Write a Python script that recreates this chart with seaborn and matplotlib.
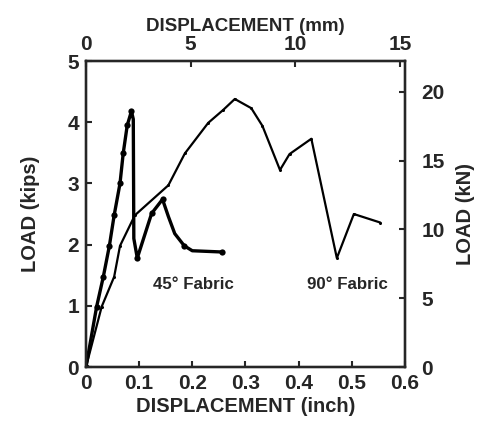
import matplotlib
matplotlib.use("Agg")
import matplotlib.pyplot as plt
import seaborn as sns
import pandas as pd

# 45 degree fabric (inch, kips)
disp45 = [0.0, 0.020, 0.0326, 0.044, 0.053, 0.064, 0.070, 0.0776, 0.0855,
          0.089, 0.090, 0.0965, 0.1235, 0.144, 0.155, 0.167, 0.185, 0.200, 0.255]
load45 = [0.0, 0.985, 1.475, 1.98, 2.48, 3.00, 3.49, 3.95, 4.18,
          4.05, 2.10, 1.78, 2.51, 2.74, 2.46, 2.18, 1.98, 1.90, 1.88]
mark45 = [0, 1, 2, 3, 4, 5, 6, 7, 8, 11, 12, 13, 16, 18]

# 90 degree fabric (inch, kips)
disp90 = [0.0, 0.0295, 0.053, 0.064, 0.092, 0.155, 0.186, 0.230, 0.258,
          0.280, 0.311, 0.332, 0.365, 0.383, 0.424, 0.472, 0.504, 0.554]
load90 = [0.0, 0.985, 1.475, 1.98, 2.48, 2.97, 3.49, 3.99, 4.20,
          4.38, 4.23, 3.94, 3.22, 3.48, 3.73, 1.78, 2.50, 2.36]

x_ticks_in = [0, 0.1, 0.2, 0.3, 0.4, 0.5, 0.6]
y_ticks_kips = [0, 1, 2, 3, 4, 5]
x_ticks_mm = [0, 5, 10, 15]
y_ticks_kn = [0, 5, 10, 15, 20]

sns.set_style("ticks")
plt.rcParams['font.family'] = ['Liberation Sans', 'DejaVu Sans']
plt.rcParams['font.weight'] = 'bold'

fig = plt.figure(figsize=(4.82, 4.30), dpi=100)
ax = fig.add_axes([0.1784, 0.1465, 0.840 - 0.1784, 0.858 - 0.1465])

df45 = pd.DataFrame({"disp": disp45, "load": load45})
df90 = pd.DataFrame({"disp": disp90, "load": load90})

sns.lineplot(data=df90, x="disp", y="load", ax=ax, sort=False, estimator=None,
             color="black", lw=1.6, marker="o", markersize=2.2, markeredgewidth=0)
sns.lineplot(data=df45, x="disp", y="load", ax=ax, sort=False, estimator=None,
             color="black", lw=2.4, marker="o", markersize=4.5, markeredgewidth=0,
             markevery=mark45)

ax.set_xlim(0, 0.6)
ax.set_ylim(0, 5)
ax.set_xticks(x_ticks_in)
ax.set_xticklabels(["0" if v == 0 else f"{v:.1f}" for v in x_ticks_in])
ax.set_yticks(y_ticks_kips)
ax.set_xlabel("DISPLACEMENT (inch)", fontsize=14.5, fontweight="bold", labelpad=3)
ax.set_ylabel("LOAD (kips)", fontsize=14.5, fontweight="bold", labelpad=20)

ax.text(0.126, 1.27, "45° Fabric", fontsize=12.2, fontweight="bold")
ax.text(0.415, 1.27, "90° Fabric", fontsize=12.2, fontweight="bold")

for s in ax.spines.values():
    s.set_linewidth(1.6)
    s.set_visible(True)
ax.tick_params(direction="in", length=4, width=1.5, labelsize=15, pad=5)

axt = ax.twiny()
axt.set_xlim(0, 0.6 * 25.4)
axt.set_xticks(x_ticks_mm)
axt.set_xlabel("DISPLACEMENT (mm)", fontsize=13.5, fontweight="bold", labelpad=3)
axt.tick_params(direction="in", length=4, width=1.5, labelsize=15, pad=5)

axr = ax.twinx()
axr.set_ylim(0, 5 * 4.448)
axr.set_yticks(y_ticks_kn)
axr.set_ylabel("LOAD (kN)", fontsize=14.5, fontweight="bold", labelpad=8)
axr.tick_params(direction="in", length=4, width=1.5, labelsize=15, pad=12)

for a in (axt, axr):
    for s in a.spines.values():
        s.set_linewidth(1.6)
        s.set_visible(True)
    for lbl in a.get_xticklabels() + a.get_yticklabels():
        lbl.set_fontweight("bold")
for lbl in ax.get_xticklabels() + ax.get_yticklabels():
    lbl.set_fontweight("bold")

fig.savefig("out.png", dpi=100)
